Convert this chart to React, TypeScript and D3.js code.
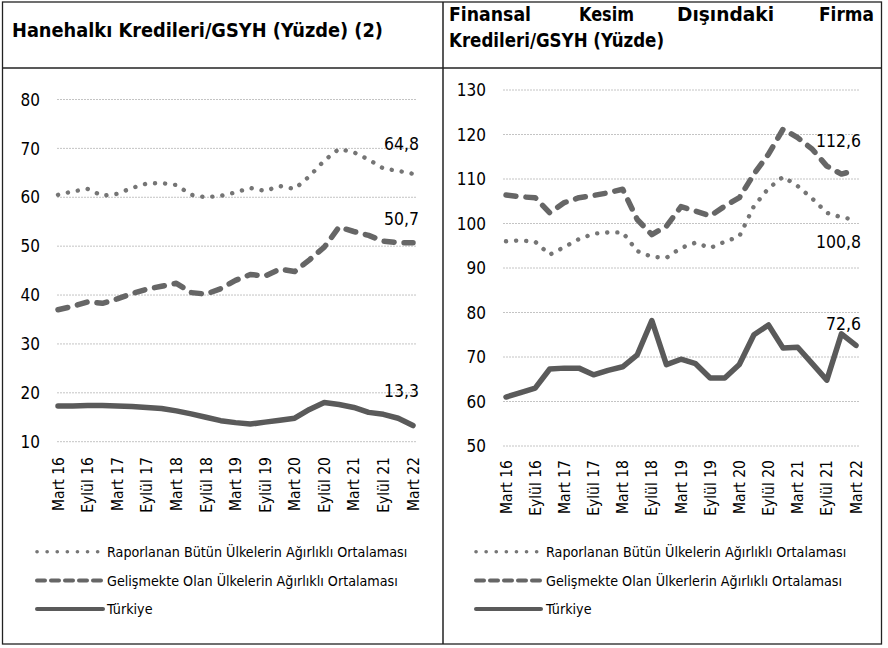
import React from "react";
import * as d3 from "d3";

const quarters = [
  "2016-03","2016-06","2016-09","2016-12","2017-03","2017-06","2017-09","2017-12",
  "2018-03","2018-06","2018-09","2018-12","2019-03","2019-06","2019-09","2019-12",
  "2020-03","2020-06","2020-09","2020-12","2021-03","2021-06","2021-09","2021-12","2022-03",
];
const tickLabels = [
  "Mart 16","Eylül 16","Mart 17","Eylül 17","Mart 18","Eylül 18","Mart 19",
  "Eylül 19","Mart 20","Eylül 20","Mart 21","Eylül 21","Mart 22",
];

// Household credit / GDP
const hhAll = [60.5,61.2,61.7,60.3,60.7,61.9,62.8,62.9,62.5,60.5,60.0,60.3,61.0,61.9,61.3,62.3,61.7,64.3,67.5,69.9,69.2,67.7,65.9,65.4,64.8];
const hhEm = [37.0,37.7,38.6,38.3,39.2,40.3,41.2,41.8,42.4,40.5,40.2,41.3,43.0,44.2,43.9,45.3,44.8,47.2,49.8,53.9,53.0,52.2,51.0,50.7,50.7];
const hhTr = [17.3,17.3,17.4,17.4,17.3,17.2,17.0,16.8,16.3,15.7,15.0,14.3,13.9,13.6,14.0,14.4,14.8,16.6,18.0,17.6,17.0,16.0,15.6,14.8,13.3];

// Non-financial corporate credit / GDP
const nfAll = [96.0,96.2,95.9,93.0,94.7,96.5,97.7,98.0,98.0,93.8,92.5,92.3,94.5,95.7,94.5,95.9,97.1,103.9,107.9,110.5,108.4,105.6,102.4,101.4,100.8];
const nfEm = [106.4,106.0,105.8,102.4,104.7,105.8,106.3,106.9,107.7,100.9,97.5,99.4,103.8,102.8,101.7,103.9,105.8,111.1,115.6,121.2,119.3,116.7,112.9,111.1,112.0];
const nfTr = [61.0,62.0,63.0,67.3,67.5,67.5,66.0,67.0,67.8,70.5,78.2,68.3,69.5,68.5,65.3,65.3,68.3,75.0,77.2,72.0,72.2,68.5,64.8,75.2,72.6];

const leftTicks = [10,20,30,40,50,60,70,80];
const rightTicks = [50,60,70,80,90,100,110,120,130];

const legendLeft = [
  "Raporlanan Bütün Ülkelerin Ağırlıklı Ortalaması",
  "Gelişmekte Olan Ülkelerin Ağırlıklı Ortalaması",
  "Türkiye",
];
const legendRight = [
  "Raporlanan Bütün Ülkelerin Ağırlıklı Ortalaması",
  "Gelişmekte Olan Ülkerlerin Ağırlıklı Ortalaması",
  "Türkiye",
];

const FONT = "'DejaVu Sans Condensed', 'DejaVu Sans', Verdana, sans-serif";

const styles = [
  { stroke: "#757575", width: 4.4, dash: "0.1 10", cap: "round" },
  { stroke: "#666666", width: 5.5, dash: "10 10", cap: "round" },
  { stroke: "#5a5a5a", width: 5.5, dash: "none", cap: "round" },
];

type PanelProps = {
  series: number[][];
  ticks: number[];
  yDomain: [number, number];
  yRange: [number, number];
  xRange: [number, number];
  gridX: [number, number];
  tickX: number;
  xLabelY: number;
  endLabels: { text: string; y: number }[];
  endLabelX: number;
  legend: string[];
  legendX: [number, number, number];
  legendRows: number[];
};

function Panel(p: PanelProps) {
  const x = d3.scalePoint<string>().domain(quarters).range(p.xRange);
  const y = d3.scaleLinear().domain(p.yDomain).range(p.yRange);
  const line = d3
    .line<number>()
    .x((_, i) => x(quarters[i]) as number)
    .y((d) => y(d));
  return (
    <g>
      {p.ticks.map((t) => (
        <g key={t}>
          <line
            x1={p.gridX[0]}
            x2={p.gridX[1]}
            y1={y(t)}
            y2={y(t)}
            stroke="#c4c4c4"
            strokeWidth={1}
            strokeDasharray="2 1"
          />
          <text
            x={p.tickX}
            y={y(t)}
            dy="0.36em"
            textAnchor="end"
            fontFamily={FONT}
            fontSize={17}
            fill="#000"
          >
            {t}
          </text>
        </g>
      ))}
      {tickLabels.map((lab, i) => {
        const xx = x(quarters[i * 2]) as number;
        return (
          <text
            key={lab}
            transform={`translate(${xx},${p.xLabelY}) rotate(-90)`}
            dy="0.36em"
            textAnchor="end"
            fontFamily={FONT}
            fontSize={15.5}
            fill="#000"
          >
            {lab}
          </text>
        );
      })}
      {p.series.map((s, i) => (
        <path
          key={i}
          d={line(s) || ""}
          fill="none"
          stroke={styles[i].stroke}
          strokeWidth={styles[i].width}
          strokeDasharray={styles[i].dash}
          strokeLinecap={styles[i].cap as any}
          strokeLinejoin="round"
        />
      ))}
      {p.endLabels.map((l) => (
        <text
          key={l.text}
          x={p.endLabelX}
          y={l.y}
          textAnchor="end"
          fontFamily={FONT}
          fontSize={17.5}
          fill="#000"
        >
          {l.text}
        </text>
      ))}
      {p.legend.map((txt, i) => (
        <g key={txt}>
          <line
            x1={p.legendX[0]}
            x2={p.legendX[1]}
            y1={p.legendRows[i]}
            y2={p.legendRows[i]}
            stroke={styles[i].stroke}
            strokeWidth={i === 0 ? 3.6 : 4}
            strokeDasharray={i === 0 ? "0.1 10" : i === 1 ? "8 6" : "none"}
            strokeLinecap={styles[i].cap as any}
          />
          <text
            x={p.legendX[2]}
            y={p.legendRows[i]}
            dy="0.36em"
            fontFamily={FONT}
            fontSize={14.2}
            fill="#000"
          >
            {txt}
          </text>
        </g>
      ))}
    </g>
  );
}

export default function App() {
  return (
    <svg
      width={888}
      height={648}
      style={{ position: "absolute", left: 0, top: 0, background: "#fff" }}
    >
      <rect x={0} y={0} width={888} height={648} fill="#fff" />
      {/* frames */}
      <rect x={2.5} y={2} width={879} height={642} fill="none" stroke="#222" strokeWidth={1.3} />
      <line x1={443} x2={443} y1={2} y2={644} stroke="#222" strokeWidth={1.5} />
      <line x1={2.5} x2={881.5} y1={68} y2={68} stroke="#222" strokeWidth={1.3} />

      {/* titles */}
      <text x={12} y={37} fontFamily={FONT} fontWeight="bold" fontSize={20} fill="#000" textLength={371} lengthAdjust="spacingAndGlyphs">
        Hanehalkı Kredileri/GSYH (Yüzde) (2)
      </text>
      <text x={449} y={21} fontFamily={FONT} fontWeight="bold" fontSize={20} fill="#000" textLength={82} lengthAdjust="spacingAndGlyphs">Finansal</text>
      <text x={579} y={21} fontFamily={FONT} fontWeight="bold" fontSize={20} fill="#000" textLength={55} lengthAdjust="spacingAndGlyphs">Kesim</text>
      <text x={677} y={21} fontFamily={FONT} fontWeight="bold" fontSize={20} fill="#000" textLength={97} lengthAdjust="spacingAndGlyphs">Dışındaki</text>
      <text x={819} y={21} fontFamily={FONT} fontWeight="bold" fontSize={20} fill="#000" textLength={55} lengthAdjust="spacingAndGlyphs">Firma</text>
      <text x={449} y={47} fontFamily={FONT} fontWeight="bold" fontSize={20} fill="#000" textLength={215} lengthAdjust="spacingAndGlyphs">
        Kredileri/GSYH (Yüzde)
      </text>

      <Panel
        series={[hhAll, hhEm, hhTr]}
        ticks={leftTicks}
        yDomain={[10, 80]}
        yRange={[441.7, 99.5]}
        xRange={[58, 413]}
        gridX={[57, 417]}
        tickX={40}
        xLabelY={457}
        endLabels={[
          { text: "64,8", y: 150 },
          { text: "50,7", y: 225 },
          { text: "13,3", y: 397 },
        ]}
        endLabelX={419}
        legend={legendLeft}
        legendX={[37, 103, 107]}
        legendRows={[551.7, 580.5, 609]}
      />
      <Panel
        series={[nfAll, nfEm, nfTr]}
        ticks={rightTicks}
        yDomain={[50, 130]}
        yRange={[446, 90]}
        xRange={[506, 856]}
        gridX={[503, 859]}
        tickX={486}
        xLabelY={460}
        endLabels={[
          { text: "112,6", y: 147 },
          { text: "100,8", y: 248 },
          { text: "72,6", y: 330 },
        ]}
        endLabelX={861}
        legend={legendRight}
        legendX={[476, 541, 546]}
        legendRows={[551.7, 580.5, 609]}
      />
    </svg>
  );
}
